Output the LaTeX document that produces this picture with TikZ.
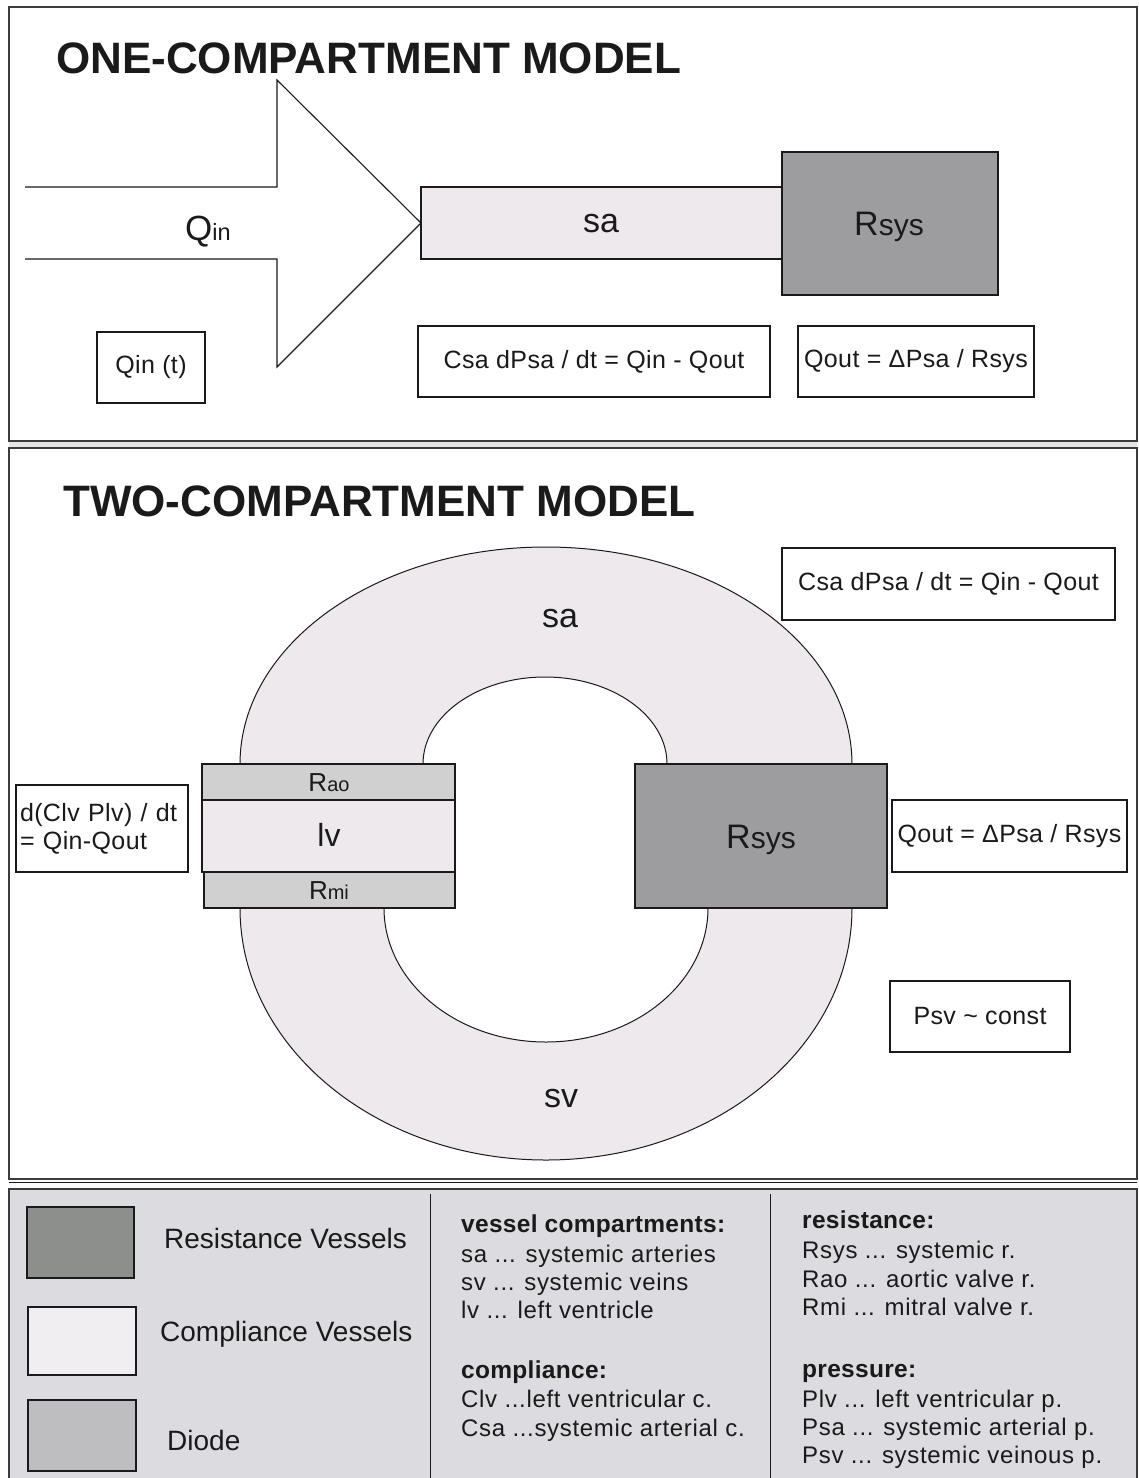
\documentclass[tikz,border=0pt]{standalone}
\usepackage{fontspec}
\setmainfont{Liberation Sans}
\newfontfamily\eqfont[LetterSpace=1.5]{Liberation Sans}
\newfontfamily\legfont[LetterSpace=2.8]{Liberation Sans}
\newfontfamily\hdfont[LetterSpace=1.2]{Liberation Sans}
\newcommand\myfs[1]{\fontsize{#1}{#1}\selectfont}
\definecolor{compc}{HTML}{EDE9ED}
\definecolor{rsysc}{HTML}{9D9C9F}
\definecolor{diodec}{HTML}{D0D0D0}
\definecolor{legbg}{HTML}{DCDBDF}
\definecolor{legres}{HTML}{8D8F8D}
\definecolor{legcomp}{HTML}{F0EEF0}
\definecolor{legdiode}{HTML}{BEBDBF}
\definecolor{bandc}{HTML}{E4E4E4}
\definecolor{ink}{HTML}{1A1A1A}
\tikzset{
  frame/.style={draw=ink!85, line width=1.8pt},
  eqbox/.style={draw=ink, line width=1.1pt, fill=white, inner sep=0pt, font=\eqfont\myfs{25}, text=ink},
  compbox/.style={draw=ink, line width=1.1pt, fill=compc, inner sep=0pt, text=ink},
  rsysbox/.style={draw=ink, line width=1.1pt, fill=rsysc, inner sep=0pt, text=ink},
  diodebox/.style={draw=ink, line width=1.1pt, fill=diodec, inner sep=0pt, text=ink},
  lbl/.style={inner sep=0pt, text=ink},
  legtxt/.style={inner sep=0pt, anchor=base west, text=ink, font=\legfont\myfs{24}},
  leghd/.style={inner sep=0pt, anchor=base west, text=ink, font=\hdfont\myfs{24.5}\bfseries},
  outline/.style={draw=ink, line width=1.1pt},
  seam/.style={draw=ink, line width=2.6pt},
}
\begin{document}
\begin{tikzpicture}[x=1pt,y=-1pt]
\useasboundingbox[fill=white] (0,0) rectangle (1139,1478);
% panels
\fill[bandc] (9,441) rectangle (1137,448);
\draw[frame] (9,7) rectangle (1137,441);
\draw[frame] (9,448) rectangle (1137,1179);
\fill[legbg] (9,1189) rectangle (1137,1478);
\draw[frame] (9,1478) -- (9,1189) -- (1137,1189) -- (1137,1478);
\draw[ink, line width=0.8pt] (9,1182) -- (1137,1182);

% ---------------- ONE-COMPARTMENT ----------------
\node[lbl, anchor=base west, font=\myfs{44}\bfseries] (t1) at (56,73) {ONE-COMPARTMENT MODEL};
\draw[outline] (25,187) -- (277,187) -- (277,80) -- (421,223) -- (277,367) -- (277,259) -- (25,259);
\node[lbl, anchor=base west] (qin) at (185,240) {\myfs{35}Q\myfs{23.5}in};
\node[compbox, minimum width=361, minimum height=72] (sa1) at (601.5,223) {};
\node[lbl, anchor=base, font=\myfs{34}] (sa1l) at (601,232) {sa};
\node[rsysbox, minimum width=216, minimum height=143] (rsys1) at (890,223.5) {};
\node[lbl, anchor=base] (rsys1l) at (889,235) {\myfs{34}R\myfs{30}sys};
\node[eqbox, minimum width=108, minimum height=71] (qint) at (151,367.5) {Qin (t)};
\node[eqbox, minimum width=352, minimum height=71] (eq1) at (594,361.5) {Csa dPsa / dt = Qin - Qout};
\node[eqbox, minimum width=236, minimum height=71] (qout1) at (916,361.5) {Qout = ΔPsa / Rsys};

% ---------------- TWO-COMPARTMENT ----------------
\node[lbl, anchor=base west, font=\myfs{44}\bfseries] (t2) at (63,516) {TWO-COMPARTMENT MODEL};
% torus band
\path[fill=compc, even odd rule]
  (240,764) arc[start angle=180, end angle=360, x radius=306, y radius=217]
  -- (852,908) arc[start angle=0, end angle=180, x radius=306, y radius=252] -- cycle
  (423,764) arc[start angle=180, end angle=360, x radius=122, y radius=87]
  -- (708,908) arc[start angle=0, end angle=180, x radius=162, y radius=134] -- cycle;
\draw[ink, line width=1pt]
  (240,764) arc[start angle=180, end angle=360, x radius=306, y radius=217]
  (852,908) arc[start angle=0, end angle=180, x radius=306, y radius=252]
  (423,764) arc[start angle=180, end angle=360, x radius=122, y radius=87]
  (708,908) arc[start angle=0, end angle=180, x radius=162, y radius=134];
\node[lbl, anchor=base, font=\myfs{34}] (sa2) at (560,627) {sa};
\node[lbl, anchor=base, font=\myfs{34}] (sv2) at (561,1107) {sv};
% left ventricle stack
\node[diodebox, minimum width=253, minimum height=36] (rao) at (328.5,782) {};
\node[compbox, minimum width=253, minimum height=72] (lv) at (328.5,836) {};
\node[diodebox, minimum width=251, minimum height=36] (rmi) at (329.5,890) {};
\node[lbl, anchor=base] (raol) at (329,791) {\myfs{26}R\myfs{20}ao};
\node[lbl, anchor=base, font=\myfs{32}] (lvl) at (329,846) {lv};
\node[lbl, anchor=base] (rmil) at (329,899) {\myfs{26}R\myfs{20}mi};
% Rsys
\node[rsysbox, minimum width=252, minimum height=144] (rsys2) at (761,836) {};
\node[lbl, anchor=base] (rsys2l) at (761,848) {\myfs{34}R\myfs{30}sys};
% seams
\draw[seam] (240,764) -- (330,764);
\draw[seam] (240,908) -- (310,908);
\draw[seam] (782,908) -- (852,908);
% equation boxes
\node[eqbox, minimum width=172, minimum height=87, text width=164pt, align=left, font=\eqfont\fontsize{25}{28}\selectfont] (eqlv) at (102,828.5) {d(Clv Plv) / dt\\= Qin-Qout};
\node[eqbox, minimum width=333, minimum height=72] (eq2) at (948.5,584) {Csa dPsa / dt = Qin - Qout};
\node[eqbox, minimum width=235, minimum height=72] (qout2) at (1009.5,836) {Qout = ΔPsa / Rsys};
\node[eqbox, minimum width=180, minimum height=71] (psv) at (980,1016.5) {Psv \textasciitilde\ const};

% ---------------- LEGEND ----------------
\node[draw=ink, line width=1.1pt, fill=legres, minimum width=107, minimum height=71, inner sep=0pt] (lres) at (80.5,1242.5) {};
\node[draw=ink, line width=1.1pt, fill=legcomp, minimum width=108, minimum height=68, inner sep=0pt] (lcomp) at (82,1341) {};
\node[draw=ink, line width=1.1pt, fill=legdiode, minimum width=108, minimum height=71, inner sep=0pt] (ldiode) at (82,1435.5) {};
\node[inner sep=0pt, anchor=base west, text=ink, font=\myfs{28}] (lrest) at (164,1248) {Resistance Vessels};
\node[inner sep=0pt, anchor=base west, text=ink, font=\myfs{28}] (lcompt) at (160,1341) {Compliance Vessels};
\node[inner sep=0pt, anchor=base west, text=ink, font=\myfs{28}] (ldiodet) at (167,1450) {Diode};
\draw[ink, line width=1pt] (430,1194) -- (430,1478);
\draw[ink, line width=1pt] (770,1194) -- (770,1478);

\node[leghd] (h1) at (461,1232) {vessel compartments:};
\node[legtxt] (c11) at (461,1262) {sa ... systemic arteries};
\node[legtxt] (c12) at (461,1290) {sv ... systemic veins};
\node[legtxt] (c13) at (461,1318) {lv ... left ventricle};
\node[leghd] (h2) at (461,1378) {compliance:};
\node[legtxt] (c21) at (461,1407) {Clv ...left ventricular c.};
\node[legtxt] (c22) at (461,1436) {Csa ...systemic arterial c.};

\node[leghd] (h3) at (802,1228) {resistance:};
\node[legtxt] (c31) at (802,1258) {Rsys ... systemic r.};
\node[legtxt] (c32) at (802,1287) {Rao ... aortic valve r.};
\node[legtxt] (c33) at (802,1315) {Rmi ... mitral valve r.};
\node[leghd] (h4) at (802,1377) {pressure:};
\node[legtxt] (c41) at (802,1407) {Plv ... left ventricular p.};
\node[legtxt] (c42) at (802,1435) {Psa ... systemic arterial p.};
\node[legtxt] (c43) at (802,1463) {Psv ... systemic veinous p.};
\end{tikzpicture}
\end{document}
